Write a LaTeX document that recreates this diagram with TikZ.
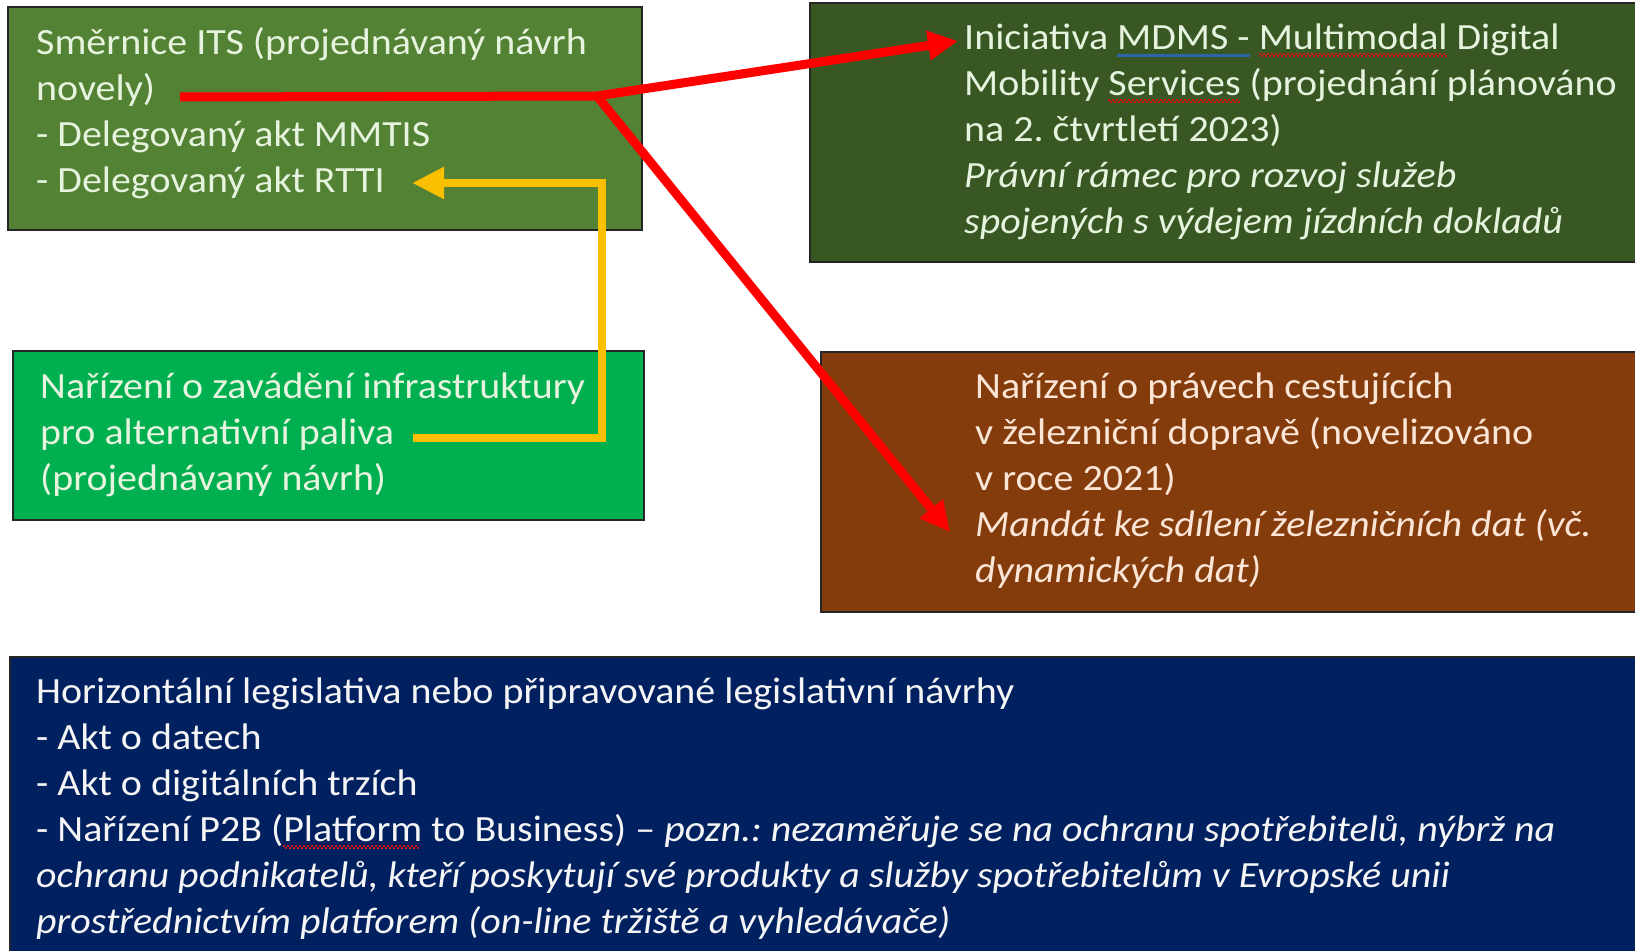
\documentclass[tikz,border=0pt]{standalone}
\usepackage{fontspec}
\setmainfont[FakeStretch=1.08]{Carlito}
\usetikzlibrary{arrows.meta}
\frenchspacing
\definecolor{itsgreen}{RGB}{84,130,53}
\definecolor{mdmsgreen}{RGB}{56,87,35}
\definecolor{afirgreen}{RGB}{0,176,80}
\definecolor{railbrown}{RGB}{132,60,12}
\definecolor{navyblue}{RGB}{0,32,96}
\definecolor{arrowred}{RGB}{255,0,0}
\definecolor{arrowgold}{RGB}{250,192,0}
\definecolor{txtgreen}{RGB}{230,243,222}
\definecolor{txtpeach}{RGB}{251,229,214}
\definecolor{txtwhite}{RGB}{245,245,245}
\definecolor{spellblue}{RGB}{46,100,170}
\definecolor{spellred}{RGB}{210,20,20}
\newcommand\blueline[1]{{\setbox0\hbox{#1}\rlap{\color{spellblue}\rule[-8pt]{\wd0}{3.5pt}}\box0}}
\newcommand\redwave[1]{{\setbox0\hbox{#1}\rlap{\color{spellred}\hbox to \wd0{\leaders\hbox{\rule[-6pt]{2pt}{2pt}\rule[-8pt]{2pt}{2pt}}\hfill}}\box0}}
\tikzset{
  box/.style={rectangle, draw=black!85, line width=1.5pt, inner sep=0pt},
  txt/.style={anchor=base west, align=left, inner sep=0pt,
    font=\fontsize{37}{46}\selectfont},
  redarrow/.style={draw=arrowred, line width=9pt, line join=miter,
    -{Triangle[length=30pt,width=28pt]}},
  goldarrow/.style={draw=arrowgold, line width=8pt, line join=miter,
    -{Triangle[length=32pt,width=30pt]}}
}
\begin{document}
\begin{tikzpicture}[x=1pt,y=-1pt]
\useasboundingbox (0,0) rectangle (1635,950);
\fill[white] (0,0) rectangle (1635,950);
% boxes
\node[box, fill=itsgreen, minimum width=634pt, minimum height=223pt] (its) at (325,118.5) {};
\node[box, fill=mdmsgreen, minimum width=835pt, minimum height=259pt] (mdms) at (1227.5,132.5) {};
\node[box, fill=afirgreen, minimum width=631pt, minimum height=169pt] (afir) at (328.5,435.5) {};
\node[box, fill=railbrown, minimum width=824pt, minimum height=260pt] (rail) at (1233,482) {};
\node[box, fill=navyblue, minimum width=1635pt, minimum height=303pt] (horiz) at (827.5,808.5) {};
% texts (anchored at the baseline of their last line)
\node[txt, text=txtgreen] (itstext) at (36,192) {Směrnice ITS (projednávaný návrh\\novely)\\- Delegovaný akt MMTIS\\- Delegovaný akt RTTI};
\node[txt, text=txtgreen] (mdmstext) at (964,233) {Iniciativa \blueline{MDMS -} \redwave{Multimodal} Digital\\Mobility \redwave{Services} (projednání plánováno\\na 2. čtvrtletí 2023)\\\textit{Právní rámec pro rozvoj služeb}\\\textit{spojených s výdejem jízdních dokladů}};
\node[txt, text=txtgreen] (afirtext) at (40,490) {Nařízení o zavádění infrastruktury\\pro alternativní paliva\\(projednávaný návrh)};
\node[txt, text=txtpeach] (railtext) at (975,582) {Nařízení o právech cestujících\\v železniční dopravě (novelizováno\\v roce 2021)\\\textit{Mandát ke sdílení železničních dat (vč.}\\\textit{dynamických dat)}};
\node[txt, text=txtwhite] (horiztext) at (36,933) {Horizontální legislativa nebo připravované legislativní návrhy\\- Akt o datech\\- Akt o digitálních trzích\\- Nařízení P2B (\redwave{Platform} to Business) – \textit{pozn.: nezaměřuje se na ochranu spotřebitelů, nýbrž na}\\\textit{ochranu podnikatelů, kteří poskytují své produkty a služby spotřebitelům v Evropské unii}\\\textit{prostřednictvím platforem (on-line tržiště a vyhledávače)}};
% connector points
\coordinate (rs) at (180,97);
\coordinate (rj) at (597,96);
\coordinate (rt1) at (958,41);
\coordinate (rt2) at (950,532);
\coordinate (ys) at (413,438);
\coordinate (yc1) at (602,438);
\coordinate (yc2) at (602,183);
\coordinate (yt) at (412,183);
% arrows
\draw[redarrow] (rs) -- (rj) -- (rt1);
\draw[redarrow] (rj) -- (rt2);
\draw[goldarrow] (ys) -- (yc1) -- (yc2) -- (yt);
\end{tikzpicture}
\end{document}
